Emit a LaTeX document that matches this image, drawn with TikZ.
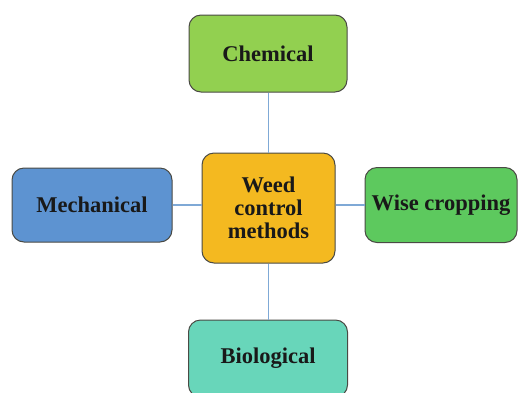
\documentclass[tikz,border=0pt]{standalone}
\usepackage{fontspec}
\setmainfont{Liberation Serif}
\definecolor{chemc}{HTML}{92D050}
\definecolor{centc}{HTML}{F4B920}
\definecolor{mechc}{HTML}{5D93D1}
\definecolor{wisec}{HTML}{5DC95E}
\definecolor{bioc}{HTML}{68D6BA}
\definecolor{linkc}{HTML}{7FA9D6}
\definecolor{edgec}{HTML}{4A4A44}
\begin{document}
\begin{tikzpicture}[x=1pt,y=-1pt,
  box/.style={draw=edgec, line width=1pt, rounded corners=12pt, inner sep=0pt,
    font=\fontsize{22.5}{23}\selectfont\bfseries, align=center, text=black!90},
  link/.style={draw=linkc, line width=1.1pt}]
\useasboundingbox (0,0) rectangle (522,392);
\clip (0,0) rectangle (522,392);
\node[box, fill=centc, minimum width=133pt, minimum height=110pt] (cent) at (268.5,208) {Weed\\control\\methods};
\node[box, fill=chemc, minimum width=158pt, minimum height=77pt] (chem) at (268,53.5) {Chemical};
\node[box, fill=mechc, minimum width=160pt, minimum height=74pt] (mech) at (92,205) {Mechanical};
\node[box, fill=wisec, minimum width=152pt, minimum height=75pt] (wise) at (441,205) {Wise cropping};
\node[box, fill=bioc, minimum width=159pt, minimum height=77pt] (bio) at (268,358.5) {Biological};
\draw[link] (cent.north) -- (cent.north |- chem.south);
\draw[link] (cent.south) -- (cent.south |- bio.north);
\draw[link] (mech.east) -- (mech.east -| cent.west);
\draw[link] (wise.west -| cent.east) -- (wise.west);
\end{tikzpicture}
\end{document}
